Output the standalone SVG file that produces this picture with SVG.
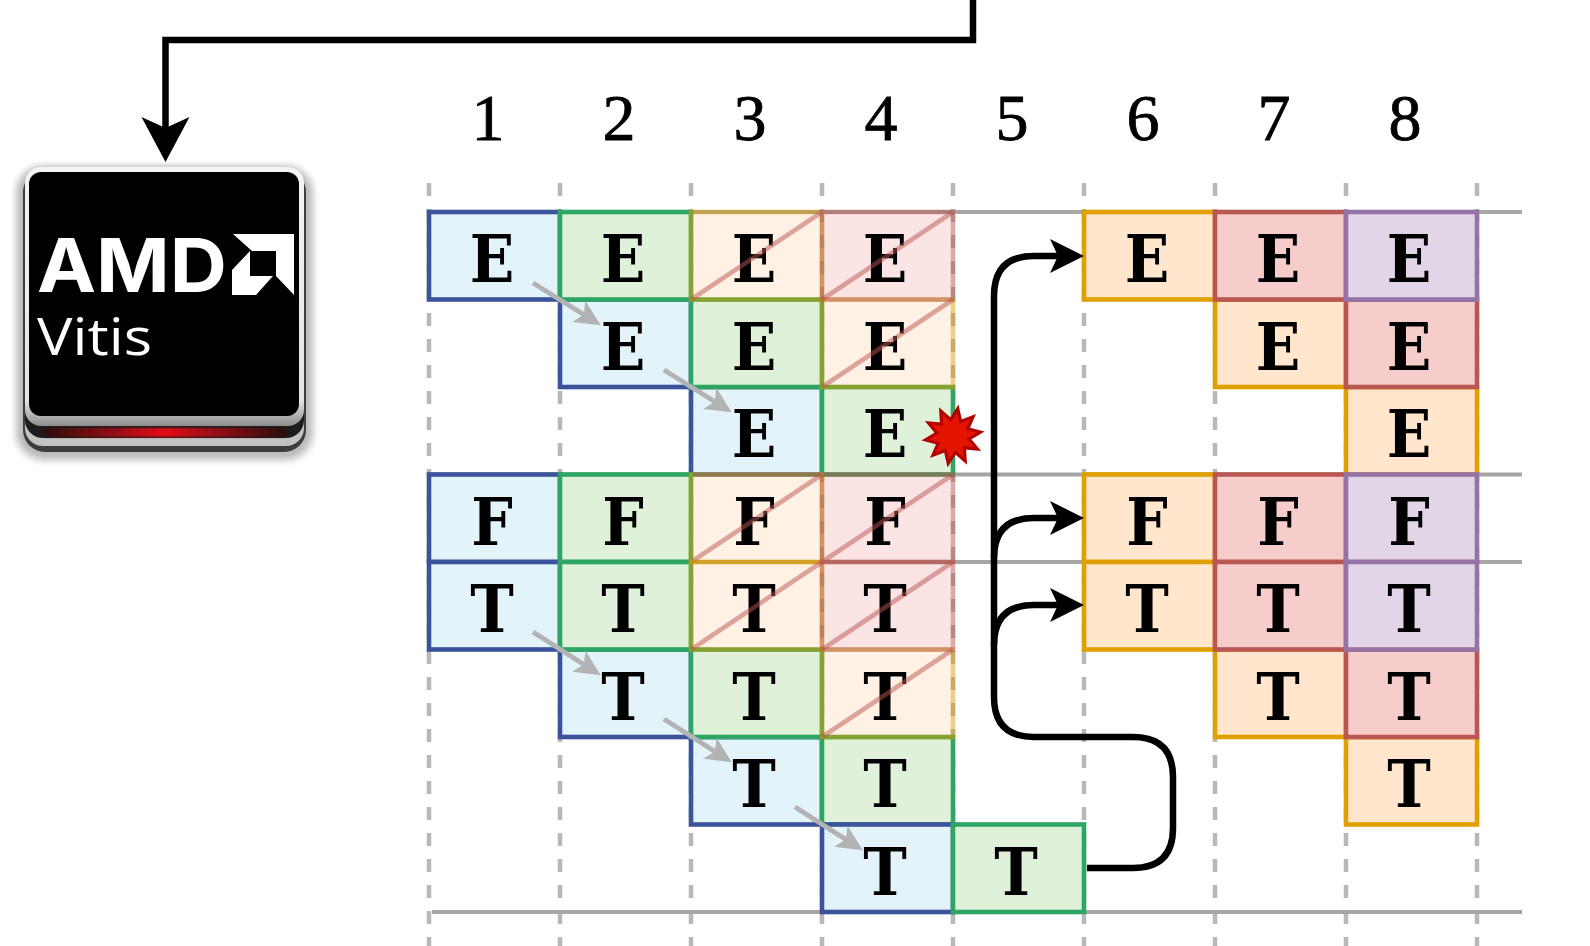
<svg xmlns="http://www.w3.org/2000/svg" width="1590" height="946" viewBox="0 0 1590 946">
<style>
.g{stroke:#b8b8b8;stroke-width:4.5;stroke-dasharray:13 13;fill:none}
.h{stroke:#a6a6a6;stroke-width:4;fill:none}
rect.c{stroke-width:4.6}
.b{fill:#e3f3fa;stroke:#3a539b}
.n{fill:#dff2d9;stroke:#2ea562}
.o{fill:#ffe6cc;stroke:#dfa000}
.r{fill:#f6cdcb;stroke:#bb5752}
.p{fill:#e1d5e7;stroke:#9673a6}
.f{opacity:.5}
.d{stroke:#b85450;stroke-width:4.6;opacity:.5;fill:none}
text.l{font-family:"DejaVu Serif",serif;font-weight:700;font-stretch:condensed;font-size:65px;text-anchor:middle;fill:#000}
text.m{font-family:"Liberation Serif",serif;font-size:66px;text-anchor:middle;fill:#000;stroke:#000;stroke-width:.8}
.k{stroke:#000;stroke-width:6.5;fill:none}
.a{stroke:#b3b3b3;stroke-width:5;fill:none}
</style>
<defs>
<filter id="blur" x="-20%" y="-20%" width="140%" height="140%"><feGaussianBlur stdDeviation="2"/></filter>
<filter id="soft" x="-5%" y="-50%" width="110%" height="200%"><feGaussianBlur stdDeviation="1"/></filter>
<linearGradient id="bevel" x1="0" y1="0" x2="0" y2="1"><stop offset="0" stop-color="#f4f4f4"/><stop offset=".9" stop-color="#e4e4e4"/><stop offset="1" stop-color="#8e8e8e"/></linearGradient>
<linearGradient id="led" x1="0" y1="0" x2="1" y2="0"><stop offset="0" stop-color="#2a1010"/><stop offset=".5" stop-color="#e30b14"/><stop offset="1" stop-color="#2a1010"/></linearGradient>
<marker id="ka" markerUnits="userSpaceOnUse" markerWidth="36" markerHeight="36" refX="26" refY="17" orient="auto"><path d="M0 0L34 17L0 34L8 17Z" fill="#000"/></marker>
<marker id="kb" markerUnits="userSpaceOnUse" markerWidth="48" markerHeight="50" refX="35" refY="24" orient="auto"><path d="M0 0L45 24L0 48L11 24Z" fill="#000"/></marker>
<marker id="ga" markerUnits="userSpaceOnUse" markerWidth="28" markerHeight="27" refX="18" refY="12.5" orient="auto"><path d="M0 0L26 12.500L0 25L6 12.500Z" fill="#b3b3b3"/></marker>
</defs>

<g id="grid">
<path class="g" d="M429 183V946M560 183V946M691 183V946M822 183V946M953 183V946M1084 183V946M1215 183V946M1346 183V946M1477 183V946"/>
<path class="h" d="M432 912H1522M429 212H1522M429 474.500H1522M429 562H1522"/>
</g>

<g id="vitis-chip">
<rect x="13" y="163" width="303" height="300" rx="30" fill="#e4e4e4" filter="url(#blur)"/>
<rect x="18" y="167" width="293" height="291" rx="26" fill="#bcbcbc" filter="url(#blur)"/>
<rect x="23" y="170" width="283" height="282" rx="22" fill="#3c3c3c"/>
<rect x="25" y="172" width="279" height="274" rx="18" fill="#c2c2c2"/>
<rect x="25" y="172" width="279" height="266" rx="18" fill="#1c1c1c"/>
<rect x="42" y="428" width="245" height="9" rx="4.500" fill="url(#led)" filter="url(#soft)"/>
<rect x="25" y="167" width="279" height="259" rx="16" fill="url(#bevel)"/>
<rect x="29" y="172" width="270" height="244" rx="12" fill="#000"/>
<text x="37" y="291.500" font-family="Inter,sans-serif" font-weight="700" font-size="74" fill="#fff" textLength="190" lengthAdjust="spacingAndGlyphs">AMD</text>
<path d="M233 234H294V295L276 276V251H252ZM250 251V276H273L256 295H232V270Z" fill="#fff"/>
<text x="37" y="355" font-family="Open Sans,sans-serif" font-size="52" fill="#fff" textLength="115" lengthAdjust="spacingAndGlyphs">Vitis</text>
</g>

<g id="cycles">
<text class="m" x="488" y="140">1</text><text class="m" x="619" y="140">2</text><text class="m" x="750" y="140">3</text><text class="m" x="881" y="140">4</text><text class="m" x="1012" y="140">5</text><text class="m" x="1143" y="140">6</text><text class="m" x="1274" y="140">7</text><text class="m" x="1405" y="140">8</text>
</g>

<g id="blue-cells">
<g id="e1-1"><rect class="c b" x="429" y="212" width="131" height="87.500"/><text class="l" x="492" y="282">E</text></g>
<g id="e2-2"><rect class="c b" x="560" y="299.500" width="131" height="87.500"/><text class="l" x="623" y="369.500">E</text></g>
<g id="e3-3"><rect class="c b" x="691" y="387" width="131" height="87.500"/><text class="l" x="754" y="457">E</text></g>
<g id="f-1"><rect class="c b" x="429" y="474.500" width="131" height="87.500"/><text class="l" x="492" y="544.500">F</text></g>
<g id="t1-1"><rect class="c b" x="429" y="562" width="131" height="87.500"/><text class="l" x="492" y="632">T</text></g>
<g id="t2-2"><rect class="c b" x="560" y="649.500" width="131" height="87.500"/><text class="l" x="623" y="719.500">T</text></g>
<g id="t3-3"><rect class="c b" x="691" y="737" width="131" height="87.500"/><text class="l" x="754" y="807">T</text></g>
</g>
<g id="green-cells">
<g id="e1-2"><rect class="c n" x="560" y="212" width="131" height="87.500"/><text class="l" x="623" y="282">E</text></g>
<g id="e2-3"><rect class="c n" x="691" y="299.500" width="131" height="87.500"/><text class="l" x="754" y="369.500">E</text></g>
<g id="e3-4"><rect class="c n" x="822" y="387" width="131" height="87.500"/><text class="l" x="885" y="457">E</text></g>
<g id="f-2"><rect class="c n" x="560" y="474.500" width="131" height="87.500"/><text class="l" x="623" y="544.500">F</text></g>
<g id="t1-2"><rect class="c n" x="560" y="562" width="131" height="87.500"/><text class="l" x="623" y="632">T</text></g>
<g id="t2-3"><rect class="c n" x="691" y="649.500" width="131" height="87.500"/><text class="l" x="754" y="719.500">T</text></g>
<g id="t3-4"><rect class="c n" x="822" y="737" width="131" height="87.500"/><text class="l" x="885" y="807">T</text></g>
<g id="t4-4"><rect class="c b" x="822" y="824.500" width="131" height="87.500"/><text class="l" x="885" y="894.500">T</text></g>
<g id="t4-5"><rect class="c n" x="953" y="824.500" width="131" height="87.500"/><text class="l" x="1016" y="894.500">T</text></g>
</g>
<g id="flushed-cells">
<g id="e1-3"><rect class="c o f" x="691" y="212" width="131" height="87.500"/><text class="l" x="754" y="282">E</text><path class="d" d="M691 299.500L822 212"/></g>
<g id="e2-4"><rect class="c o f" x="822" y="299.500" width="131" height="87.500"/><text class="l" x="885" y="369.500">E</text><path class="d" d="M822 387L953 299.500"/></g>
<g id="f-3"><rect class="c o f" x="691" y="474.500" width="131" height="87.500"/><text class="l" x="754" y="544.500">F</text><path class="d" d="M691 562L822 474.500"/></g>
<g id="t1-3"><rect class="c o f" x="691" y="562" width="131" height="87.500"/><text class="l" x="754" y="632">T</text><path class="d" d="M691 649.500L822 562"/></g>
<g id="t2-4"><rect class="c o f" x="822" y="649.500" width="131" height="87.500"/><text class="l" x="885" y="719.500">T</text><path class="d" d="M822 737L953 649.500"/></g>
<g id="e1-4"><rect class="c r f" x="822" y="212" width="131" height="87.500"/><text class="l" x="885" y="282">E</text><path class="d" d="M822 299.500L953 212"/></g>
<g id="f-4"><rect class="c r f" x="822" y="474.500" width="131" height="87.500"/><text class="l" x="885" y="544.500">F</text><path class="d" d="M822 562L953 474.500"/></g>
<g id="t1-4"><rect class="c r f" x="822" y="562" width="131" height="87.500"/><text class="l" x="885" y="632">T</text><path class="d" d="M822 649.500L953 562"/></g>
</g>
<g id="orange-cells">
<g id="e1-6"><rect class="c o" x="1084" y="212" width="131" height="87.500"/><text class="l" x="1147" y="282">E</text></g>
<g id="e2-7"><rect class="c o" x="1215" y="299.500" width="131" height="87.500"/><text class="l" x="1278" y="369.500">E</text></g>
<g id="e3-8"><rect class="c o" x="1346" y="387" width="131" height="87.500"/><text class="l" x="1409" y="457">E</text></g>
<g id="f-6"><rect class="c o" x="1084" y="474.500" width="131" height="87.500"/><text class="l" x="1147" y="544.500">F</text></g>
<g id="t1-6"><rect class="c o" x="1084" y="562" width="131" height="87.500"/><text class="l" x="1147" y="632">T</text></g>
<g id="t2-7"><rect class="c o" x="1215" y="649.500" width="131" height="87.500"/><text class="l" x="1278" y="719.500">T</text></g>
<g id="t3-8"><rect class="c o" x="1346" y="737" width="131" height="87.500"/><text class="l" x="1409" y="807">T</text></g>
</g>
<g id="red-cells">
<g id="e1-7"><rect class="c r" x="1215" y="212" width="131" height="87.500"/><text class="l" x="1278" y="282">E</text></g>
<g id="e2-8"><rect class="c r" x="1346" y="299.500" width="131" height="87.500"/><text class="l" x="1409" y="369.500">E</text></g>
<g id="f-7"><rect class="c r" x="1215" y="474.500" width="131" height="87.500"/><text class="l" x="1278" y="544.500">F</text></g>
<g id="t1-7"><rect class="c r" x="1215" y="562" width="131" height="87.500"/><text class="l" x="1278" y="632">T</text></g>
<g id="t2-8"><rect class="c r" x="1346" y="649.500" width="131" height="87.500"/><text class="l" x="1409" y="719.500">T</text></g>
</g>
<g id="purple-cells">
<g id="e1-8"><rect class="c p" x="1346" y="212" width="131" height="87.500"/><text class="l" x="1409" y="282">E</text></g>
<g id="f-8"><rect class="c p" x="1346" y="474.500" width="131" height="87.500"/><text class="l" x="1409" y="544.500">F</text></g>
<g id="t1-8"><rect class="c p" x="1346" y="562" width="131" height="87.500"/><text class="l" x="1409" y="632">T</text></g>
</g>

<g id="flush-star"><polygon transform="translate(953 436)" fill="#e51400" stroke="#b20000" stroke-width="3" points="4.800,-27.600 7.700,-14.600 20.200,-19.400 14.800,-7.200 27.700,-3.900 16.200,2.900 24.700,13.100 11.500,11.900 12.300,25.200 2.300,16.300 -4.800,27.600 -7.700,14.600 -20.200,19.400 -14.800,7.200 -27.700,3.900 -16.200,-2.900 -24.700,-13.100 -11.500,-11.900 -12.300,-25.200 -2.300,-16.300"/></g>

<g id="connectors">
<path class="a" marker-end="url(#ga)" d="M533 283L594 321"/>
<path class="a" marker-end="url(#ga)" d="M664 370L725 408"/>
<path class="a" marker-end="url(#ga)" d="M533 632L594 671"/>
<path class="a" marker-end="url(#ga)" d="M664 719L725 758"/>
<path class="a" marker-end="url(#ga)" d="M795 807L856 846"/>
<path class="k" marker-end="url(#kb)" d="M973 0V40H165.500V152"/>
<path class="k" marker-end="url(#ka)" d="M1087 868H1133Q1173 868 1173 828V777Q1173 737 1133 737H1034Q994 737 994 697V296Q994 256 1034 256H1076"/>
<path class="k" marker-end="url(#ka)" d="M994 558Q994 518 1034 518H1076"/>
<path class="k" marker-end="url(#ka)" d="M994 645Q994 605 1034 605H1076"/>
</g>
</svg>
